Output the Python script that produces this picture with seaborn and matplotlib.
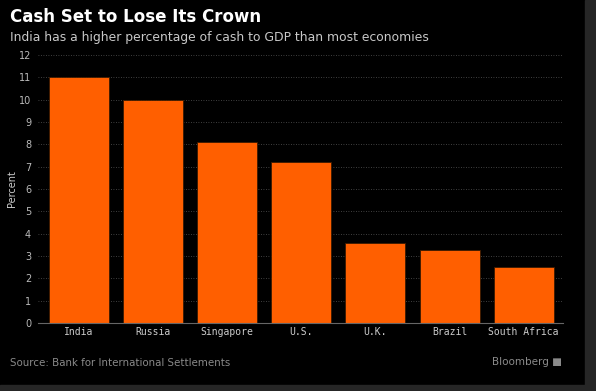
import matplotlib
matplotlib.use("Agg")
import matplotlib.pyplot as plt
import seaborn as sns
import pandas as pd
from matplotlib.patches import Rectangle

countries = ["India", "Russia", "Singapore", "U.S.", "U.K.", "Brazil", "South Africa"]
cash_to_gdp = [11.0, 10.0, 8.1, 7.2, 3.6, 3.25, 2.5]

df = pd.DataFrame({"Country": countries, "Percent": cash_to_gdp})

sns.set_style("dark")
plt.rcParams["font.family"] = ["DejaVu Sans"]

fig = plt.figure(figsize=(5.96, 3.91), dpi=100, facecolor="black")
# gray frame strips on right and bottom
fig.patches.append(Rectangle((585 / 596, 0), 1, 1, transform=fig.transFigure, color="#262626", zorder=0))
fig.patches.append(Rectangle((0, 0), 1, 6 / 391, transform=fig.transFigure, color="#262626", zorder=0))

ax = fig.add_axes([38 / 596, 1 - 323 / 391, (563 - 38) / 596, (323 - 55) / 391])
ax.set_facecolor("black")

sns.barplot(data=df, x="Country", y="Percent", color="#ff5f00", saturation=1,
            width=0.81, edgecolor="#3a1a00", linewidth=0.6, ax=ax, zorder=3)

ax.set_ylim(0, 12)
ax.set_xlim(-0.55, 6.53)
ax.set_yticks(range(0, 13))
ax.grid(axis="y", color="#555555", linestyle=(0, (1, 2)), linewidth=0.6, zorder=0)
ax.grid(axis="x", visible=False)
for s in ["top", "right", "left"]:
    ax.spines[s].set_visible(False)
ax.spines["bottom"].set_color("#666666")
ax.spines["bottom"].set_linewidth(0.8)
ax.spines["bottom"].set_zorder(4)

ax.tick_params(axis="y", colors="#bbbbbb", labelsize=7, length=0, pad=5)
ax.tick_params(axis="x", colors="#666666", labelcolor="#cccccc", labelsize=7, length=3, width=0.6, pad=3, direction="in")
for lbl in ax.get_xticklabels():
    lbl.set_fontfamily("DejaVu Sans Mono")
ax.set_xlabel("")
ax.set_ylabel("Percent", color="#cccccc", fontsize=7, labelpad=1)

fig.text(10 / 596, 1 - 17 / 391, "Cash Set to Lose Its Crown", color="white",
         fontsize=12, fontweight="bold", va="center", ha="left")
fig.text(10 / 596, 1 - 37 / 391, "India has a higher percentage of cash to GDP than most economies",
         color="#c8c8c8", fontsize=8.9, va="center", ha="left")
fig.text(10 / 596, 1 - 363 / 391, "Source: Bank for International Settlements",
         color="#8a8a8a", fontsize=7.4, va="center", ha="left")
fig.text(562 / 596, 1 - 362 / 391, "Bloomberg \u25A0", color="#8a8a8a", fontsize=7.5,
         va="center", ha="right")

fig.savefig("out.png", dpi=100, facecolor=fig.get_facecolor())
